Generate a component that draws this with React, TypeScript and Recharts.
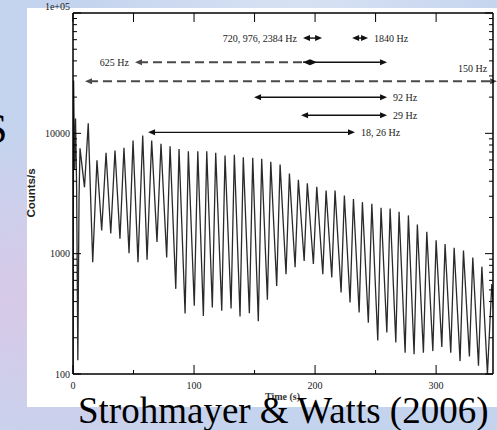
import React from "react"
import { LineChart, Line, XAxis, YAxis, ReferenceLine } from "recharts"

// initial spike (s, counts/s)
const flareTimes = [0, 0.5, 1.3, 2.1, 3.0, 4.0, 5.0]
const flareCounts = [100, 27500, 5000, 13300, 3500, 130, 3000]

// pulse maxima of the 7.56 s tail
const peakTimes = [
  5.8, 12.6, 19.8, 27.3, 34.7, 42.1, 49.6, 57.6, 65.0, 72.7, 80.2, 87.6, 95.3,
  103.1, 110.5, 117.9, 125.6, 133.3, 140.7, 148.5, 155.9, 163.4, 171.1, 178.8,
  186.2, 193.6, 201.4, 209.1, 216.5, 224.2, 231.7, 239.1, 246.9, 254.5, 262.0,
  269.4, 277.1, 284.5, 292.3, 300.0, 307.4, 314.9, 322.6, 330.3, 337.8, 346.0,
]
const peakCounts = [
  7500, 12100, 5960, 6900, 7200, 7600, 8700, 9600, 8700, 8200, 7800, 7400, 7100,
  7100, 7100, 6900, 6550, 6650, 6320, 6270, 6150, 5800, 5500, 4640, 4120, 3850,
  3600, 3340, 3340, 3040, 2850, 2680, 2600, 2410, 2370, 2230, 2080, 1750, 1520,
  1290, 1200, 1120, 1060, 930, 780, 560,
]

// pulse minima
const troughTimes = [
  9.5, 16.3, 23.7, 31.2, 38.8, 46.3, 53.7, 61.2, 69.4, 77.4, 84.9, 92.6, 100.2,
  107.7, 115.1, 122.9, 130.6, 138.0, 145.7, 153.1, 160.6, 168.3, 176.0, 183.5,
  191.0, 198.6, 206.4, 213.8, 221.5, 228.9, 236.4, 244.0, 251.8, 259.3, 266.7,
  274.4, 281.8, 289.5, 297.3, 304.7, 312.1, 319.8, 327.5, 335.0, 342.4, 350.0,
]
const troughCounts = [
  3560, 850, 1560, 1470, 1330, 1010, 850, 890, 1250, 930, 510, 318, 369, 304,
  357, 335, 350, 300, 320, 275, 415, 540, 675, 770, 870, 820, 675, 635, 476,
  393, 324, 267, 190, 221, 183, 150, 146, 150, 155, 168, 150, 128, 140, 117,
  100, 150,
]

// QPO intervals
const bandLabels = ["720, 976, 2384 Hz", "1840 Hz", "625 Hz", "", "", "150 Hz", "92 Hz", "29 Hz", "18, 26 Hz"]
const bandFrom = [190, 230.6, 51.2, 190, 190, 9.9, 149.6, 188.4, 62]
const bandTo = [205.8, 243.8, 190, 259.5, 201.6, 350.4, 259.5, 259.5, 233]
const bandLevel = [61900, 61900, 39000, 39000, 39000, 27100, 19950, 14130, 10190]

const xTicks = [0, 50, 100, 150, 200, 250, 300]
const yTicks = [
  100, 200, 300, 400, 500, 600, 700, 800, 900,
  1000, 2000, 3000, 4000, 5000, 6000, 7000, 8000, 9000,
  10000, 20000, 30000, 40000, 50000, 60000, 70000, 80000, 90000, 100000,
]
const yLabelValues = [100, 1000, 10000, 100000]
const yLabelTexts = ["100", "1000", "10000", "1e+05"]

const series = [
  ...flareTimes.map((t, i) => ({ t, counts: flareCounts[i] })),
  ...peakTimes.map((t, i) => ({ t, counts: peakCounts[i] })),
  ...troughTimes.map((t, i) => ({ t, counts: troughCounts[i] })),
].sort((a, b) => a.t - b.t)

const serif = "'Liberation Serif', 'Times New Roman', serif"
const small = { fontFamily: serif, fontSize: 10, fill: "#1a1a1a" }

// per-arrow look: heads, dash, where the label goes
const bandStyle = [
  { start: true, end: true, dashed: false, label: "left" },
  { start: true, end: true, dashed: false, label: "right" },
  { start: true, end: false, dashed: true, label: "left" },
  { start: true, end: true, dashed: false, label: "none" },
  { start: false, end: true, dashed: false, label: "none" },
  { start: true, end: true, dashed: true, label: "above" },
  { start: true, end: true, dashed: false, label: "right" },
  { start: true, end: true, dashed: false, label: "right" },
  { start: true, end: true, dashed: false, label: "right" },
]

const head = (x: number, y: number, dir: number, color: string) => (
  <polygon points={`${x},${y} ${x - dir * 7},${y - 3} ${x - dir * 7},${y + 3}`} fill={color} />
)

const makeArrow = (i: number) => (p: any) => {
  const st = bandStyle[i]
  const { x1, y1, x2, y2 } = p
  const color = st.dashed ? "#4a4a4a" : "#111"
  let text = null
  if (st.label === "left")
    text = <text x={x1 - 6} y={y1 + 3.5} textAnchor="end" style={small}>{bandLabels[i]}</text>
  if (st.label === "right")
    text = <text x={x2 + 6} y={y2 + 3.5} style={small}>{bandLabels[i]}</text>
  if (st.label === "above")
    text = <text x={x2 - 10} y={y2 - 9} textAnchor="end" style={small}>{bandLabels[i]}</text>
  return (
    <g>
      <line
        x1={x1 + (st.start ? 4 : 0)}
        y1={y1}
        x2={x2 - (st.end ? 4 : 0)}
        y2={y2}
        stroke={color}
        strokeWidth={st.dashed ? 2 : 1.4}
        strokeDasharray={st.dashed ? "9 5" : undefined}
      />
      {st.start && head(x1, y1, -1, color)}
      {st.end && head(x2, y2, 1, color)}
      {text}
    </g>
  )
}

const BottomTick = (p: any) => {
  const v = p.payload.value
  const major = v % 100 === 0
  return (
    <g>
      <line x1={p.x} y1={p.y} x2={p.x} y2={p.y - (major ? 9 : 4)} stroke="#000" />
      {major && (
        <text x={p.x} y={p.y + 15} textAnchor="middle" style={small}>
          {v}
        </text>
      )}
    </g>
  )
}

const TopTick = (p: any) => (
  <line x1={p.x} y1={p.y} x2={p.x} y2={p.y + 9} stroke="#000" />
)

const LeftTick = (p: any) => {
  const v = p.payload.value
  const idx = yLabelValues.indexOf(v)
  const major = idx >= 0
  return (
    <g>
      <line x1={p.x} y1={p.y} x2={p.x + (major ? 8 : 4)} y2={p.y} stroke="#000" />
      {major && (
        <text x={p.x - 3} y={p.y + (v === 100000 ? -3 : 3.5)} textAnchor="end" style={small}>
          {yLabelTexts[idx]}
        </text>
      )}
    </g>
  )
}

const RightTick = (p: any) => {
  const major = yLabelValues.indexOf(p.payload.value) >= 0
  return <line x1={p.x} y1={p.y} x2={p.x - (major ? 8 : 4)} y2={p.y} stroke="#000" />
}

export default function App() {
  return (
    <div
      style={{
        position: "absolute",
        left: 0,
        top: 0,
        width: 497,
        height: 430,
        overflow: "hidden",
        background:
          "radial-gradient(ellipse at 10% 70%, #d9c9e8 0%, rgba(217,201,232,0) 40%), radial-gradient(ellipse at 60% 5%, #d8e2f4 0%, rgba(216,226,244,0) 50%), #c5d4ee",
      }}
    >
      <div
        style={{
          position: "absolute",
          left: 27,
          top: 8,
          width: 470,
          height: 399,
          background: "#fff",
        }}
      />
      <div
        style={{
          position: "absolute",
          left: -16,
          top: 108,
          fontFamily: serif,
          fontSize: 42,
          lineHeight: "42px",
          color: "#000",
        }}
      >
        S
      </div>
      <div
        style={{
          position: "absolute",
          left: 31,
          top: 193,
          transform: "translate(-50%, -50%) rotate(-90deg)",
          fontFamily: "'Liberation Sans', Arial, sans-serif",
          fontWeight: 700,
          fontSize: 11.5,
          whiteSpace: "nowrap",
          color: "#222",
        }}
      >
        Counts/s
      </div>
      <div
        style={{
          position: "absolute",
          left: 265,
          top: 392,
          fontFamily: serif,
          fontWeight: 700,
          fontSize: 10,
          lineHeight: "10px",
          color: "#333",
        }}
      >
        Time (s)
      </div>
      <div style={{ position: "absolute", left: 0, top: 0 }}>
        <LineChart
          width={497}
          height={430}
          data={series}
          margin={{ top: 12, right: 3, bottom: 55, left: 72 }}
        >
          <XAxis
            xAxisId="b"
            dataKey="t"
            type="number"
            domain={[0, 347]}
            allowDataOverflow
            ticks={xTicks}
            interval={0}
            height={1}
            tickSize={0}
            tickMargin={0}
            tickLine={false}
            tick={BottomTick}
            axisLine={{ stroke: "#000", strokeWidth: 1.5 }}
          />
          <XAxis
            xAxisId="t"
            orientation="top"
            dataKey="t"
            type="number"
            domain={[0, 347]}
            allowDataOverflow
            ticks={xTicks}
            interval={0}
            height={1}
            tickSize={0}
            tickMargin={0}
            tickLine={false}
            tick={TopTick}
            axisLine={{ stroke: "#000", strokeWidth: 1.5 }}
          />
          <YAxis
            yAxisId="l"
            scale="log"
            type="number"
            domain={[100, 100000]}
            allowDataOverflow
            ticks={yTicks}
            interval={0}
            width={1}
            tickSize={0}
            tickMargin={0}
            tickLine={false}
            tick={LeftTick}
            axisLine={{ stroke: "#000", strokeWidth: 1.5 }}
          />
          <YAxis
            yAxisId="r"
            orientation="right"
            scale="log"
            type="number"
            domain={[100, 100000]}
            allowDataOverflow
            ticks={yTicks}
            interval={0}
            width={1}
            tickSize={0}
            tickMargin={0}
            tickLine={false}
            tick={RightTick}
            axisLine={{ stroke: "#000", strokeWidth: 1.5 }}
          />
          <Line
            xAxisId="b"
            yAxisId="l"
            dataKey="counts"
            type="linear"
            stroke="#2a2a2a"
            strokeWidth={1.3}
            dot={false}
            isAnimationActive={false}
          />
          {bandLabels.map((_, i) => (
            <ReferenceLine
              key={i}
              xAxisId="b"
              yAxisId="l"
              ifOverflow="visible"
              segment={[
                { x: bandFrom[i], y: bandLevel[i] },
                { x: bandTo[i], y: bandLevel[i] },
              ]}
              shape={makeArrow(i)}
            />
          ))}
        </LineChart>
      </div>
      <div
        style={{
          position: "absolute",
          left: 78,
          top: 392,
          fontFamily: serif,
          fontSize: 37,
          lineHeight: "37px",
          color: "#000",
          whiteSpace: "nowrap",
        }}
      >
        Strohmayer &amp; Watts (2006)
      </div>
    </div>
  )
}
